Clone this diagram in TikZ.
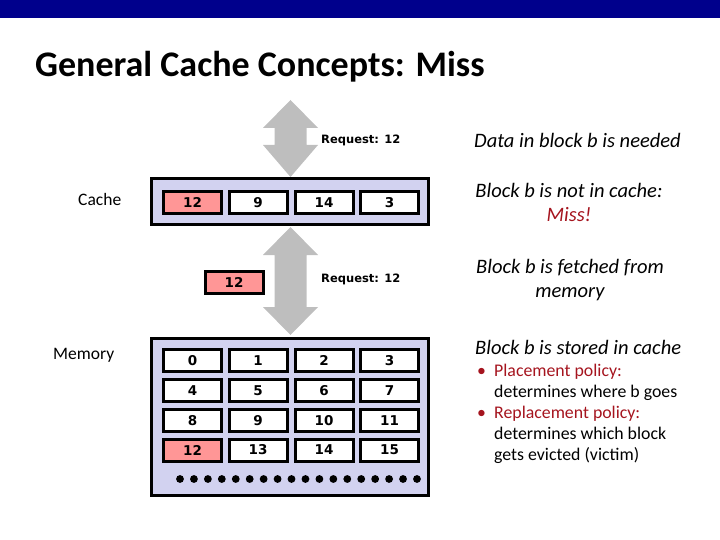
\documentclass[tikz,border=0pt]{standalone}
\usepackage{fontspec}
\setmainfont{Carlito}
\newfontfamily\verd{DejaVu Sans}
\definecolor{barblue}{RGB}{0,0,140}
\definecolor{lav}{RGB}{210,210,240}
\definecolor{hitred}{RGB}{255,150,150}
\definecolor{arrgray}{RGB}{190,190,190}
\definecolor{dred}{RGB}{165,20,30}
\begin{document}
\begin{tikzpicture}[x=1pt,y=-1pt,
  cell/.style={draw=black, line width=3pt, fill=white, minimum width=58pt, minimum height=22pt, inner sep=0pt, font=\verd\bfseries\fontsize{13.5}{15}\selectfont},
  hit/.style={cell, fill=hitred},
  outerbox/.style={draw=black, line width=3pt, fill=lav},
  bigarrow/.style={fill=arrgray},
  req/.style={font=\verd\bfseries\fontsize{11.5}{13}\selectfont, anchor=west, inner sep=0pt},
  sidelabel/.style={font=\fontsize{17.5}{20}\selectfont, anchor=west, inner sep=0pt},
  note/.style={font=\itshape\fontsize{20.5}{24}\selectfont, inner sep=0pt, align=center},
  bul/.style={font=\fontsize{17.8}{21}\selectfont, anchor=base west, inner sep=0pt},
  dot/.style={fill=black}
]
\useasboundingbox (0,0) rectangle (720,540);
\fill[barblue] (0,0) rectangle (720,18);
\node[anchor=base west, inner sep=0pt, font=\bfseries\fontsize{36}{40}\selectfont] (title) at (35,77) {General Cache Concepts: Miss};

% arrows
\fill[bigarrow] (290.5,100) -- (318,128) -- (306.5,128) -- (306.5,145) -- (318,145) -- (290.5,177) -- (263,145) -- (274.5,145) -- (274.5,128) -- (263,128) -- cycle;
\fill[bigarrow] (290.5,227) -- (318,255) -- (306.5,255) -- (306.5,307) -- (318,307) -- (290.5,335) -- (263,307) -- (274.5,307) -- (274.5,255) -- (263,255) -- cycle;

% cache
\draw[outerbox] (151.5,178.5) rectangle (428,225);
\node[hit] (c0) at (192.5,202.5) {12};
\node[cell] (c1) at (258,202.5) {9};
\node[cell] (c2) at (324,202.5) {14};
\node[cell] (c3) at (389.5,202.5) {3};

\node[hit] (f12) at (234,282.5) {12};

% memory
\draw[outerbox] (151.5,338.5) rectangle (428,495.5);
\foreach \r/\yy in {0/360.5,1/390.5,2/420.5,3/450}{
  \foreach \c/\xx in {0/192.5,1/258,2/324,3/389.5}{
    \pgfmathtruncatemacro{\v}{4*\r+\c}
    \ifnum\v=12
      \node[hit] (m\v) at (\xx,\yy) {\v};
    \else
      \node[cell] (m\v) at (\xx,\yy) {\v};
    \fi
  }
}
\foreach \i in {0,...,17}{
  \fill[dot] (180+\i*13.94,479) circle (3.9);
}

\node[req] (r1) at (321,140) {Request: 12};
\node[req] (r2) at (321,279) {Request: 12};
\node[sidelabel] (cl) at (78,199) {Cache};
\node[sidelabel] (ml) at (53,355) {Memory};

\node[note] (n1) at (577.5,140) {Data in block b is needed};
\node[note] (n2) at (569,202) {Block b is not in cache:\\\textcolor{dred}{Miss!}};
\node[note] (n3) at (570,280) {Block b is fetched from\\memory};
\node[note, anchor=west] (n4) at (475,347) {Block b is stored in cache};
\node[bul] (b1) at (477,376) {\textcolor{dred}{•}};
\node[bul] (p1) at (494,376) {\textcolor{dred}{Placement policy:}};
\node[bul] (p2) at (494,397) {determines where b goes};
\node[bul] (b2) at (477,418) {\textcolor{dred}{•}};
\node[bul] (p3) at (494,418) {\textcolor{dred}{Replacement policy:}};
\node[bul] (p4) at (494,439) {determines which block};
\node[bul] (p5) at (494,460) {gets evicted (victim)};
\end{tikzpicture}
\end{document}
